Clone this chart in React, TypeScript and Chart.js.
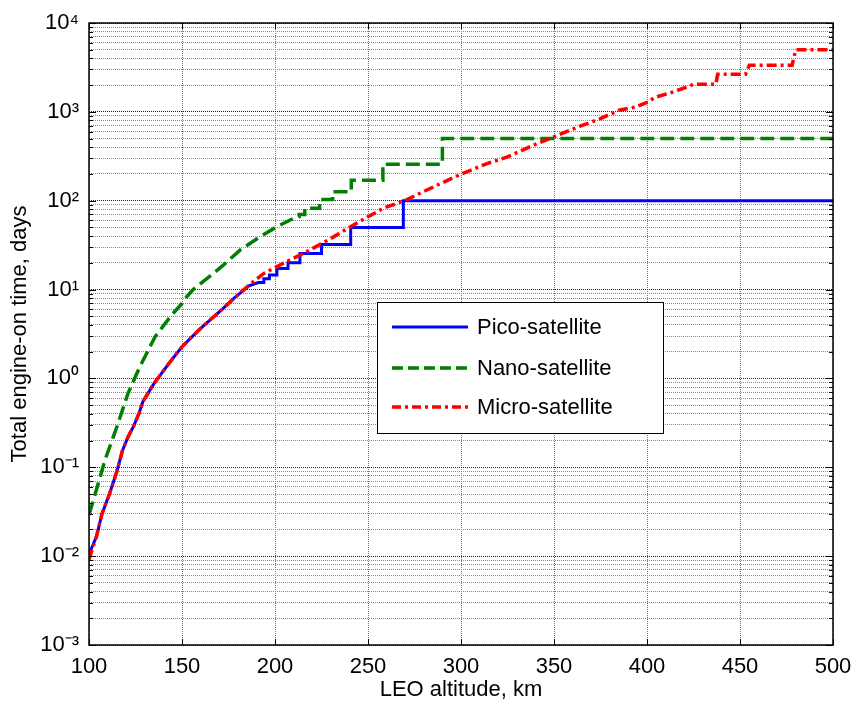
import React, { useEffect, useRef } from "react";
import { Chart, registerables } from "chart.js";

Chart.register(...registerables);

// ---------- data ----------
const altitudeTicks = [100, 150, 200, 250, 300, 350, 400, 450, 500];
const yDecades = [1e-3, 1e-2, 1e-1, 1, 10, 100, 1000, 10000];
const yDecadeLabels = ["10⁻³", "10⁻²", "10⁻¹", "10⁰", "10¹", "10²", "10³", "10⁴"];
const yMinorMultipliers = [2, 3, 4, 5, 6, 7, 8, 9];

const seriesNames = ["Pico-satellite", "Nano-satellite", "Micro-satellite"];

const picoAlt = [100, 104, 107, 111, 115, 118, 121, 124, 127, 129, 135, 143, 150, 159, 172, 178, 186, 191, 194, 194, 197, 197, 201, 201, 207, 207, 213.4, 213.4, 225, 225, 240.7, 240.7, 269, 269, 500];
const picoDays = [0.0105, 0.0166, 0.03, 0.05, 0.09, 0.155, 0.22, 0.29, 0.41, 0.55, 0.88, 1.48, 2.27, 3.5, 6.1, 8.0, 11.0, 12.0, 12.0, 13.2, 13.2, 14.6, 14.6, 17.3, 17.3, 20, 20, 25.5, 25.5, 32.2, 32.2, 50, 50, 100, 100];

const nanoAlt = [100, 104, 108.6, 115, 121, 124.5, 127.4, 135.5, 144.4, 150, 152.5, 156, 166.8, 172.2, 181.2, 191.9, 200.9, 209.8, 213, 213, 216, 216, 224, 224, 231, 231, 241, 241, 258, 258, 290, 290, 500];
const nanoDays = [0.029, 0.056, 0.121, 0.286, 0.68, 1.0, 1.36, 2.94, 5.16, 7.0, 8.3, 10, 15.2, 18.8, 27.8, 39.3, 50.8, 63, 66, 70, 70, 82, 82, 103, 103, 126, 126, 170, 170, 258, 258, 500, 500];

const microAlt = [100, 104, 107, 111, 115, 118, 121, 124, 127, 129, 135, 143, 150, 159, 172, 178, 186, 194, 206, 217, 230, 242, 258, 270, 289, 300, 314, 325, 339, 352, 364, 375, 385, 394, 401, 404, 414, 423, 425, 437, 438, 453, 455, 478, 480, 500];
const microDays = [0.0092, 0.0166, 0.03, 0.05, 0.09, 0.155, 0.22, 0.29, 0.41, 0.55, 0.88, 1.48, 2.27, 3.5, 6.1, 8.0, 11.2, 15.2, 20.5, 26.6, 37.6, 53, 82, 101, 156, 199, 262, 311, 422, 546, 689, 841, 1043, 1137, 1300, 1450, 1675, 1950, 2050, 2050, 2650, 2650, 3350, 3350, 5000, 5000];

// ---------- helpers ----------
const FONT = "'Liberation Sans', Arial, Helvetica, sans-serif";

const yTickValues: number[] = [];
yDecades.forEach((d) => {
  yTickValues.push(d);
  if (d < yDecades[yDecades.length - 1]) {
    yMinorMultipliers.forEach((m) => yTickValues.push(Number((m * d).toPrecision(10))));
  }
});

function decadeIndex(v: number): number {
  for (let i = 0; i < yDecades.length; i++) {
    if (Math.abs(v - yDecades[i]) <= yDecades[i] * 1e-9) return i;
  }
  return -1;
}

function toPoints(xs: number[], ys: number[]) {
  return xs.map((x, i) => ({ x, y: ys[i] }));
}

const framePlugin = {
  id: "matlabFrame",
  afterDraw(chart: any) {
    const { ctx, chartArea: ca, scales } = chart;
    const ys = scales.y;
    const xs = scales.x;
    ctx.save();
    ctx.strokeStyle = "#000";
    ctx.lineWidth = 1;
    ctx.setLineDash([]);
    const seg = (x0: number, y0: number, x1: number, y1: number) => {
      ctx.beginPath();
      ctx.moveTo(x0, y0);
      ctx.lineTo(x1, y1);
      ctx.stroke();
    };
    // inner y tick marks (left & right)
    for (const t of ys.ticks) {
      const py = Math.round(ys.getPixelForValue(t.value)) + 0.5;
      const len = decadeIndex(t.value) >= 0 ? 7 : 4;
      seg(ca.left, py, ca.left + len, py);
      seg(ca.right - len, py, ca.right, py);
    }
    // inner x tick marks (top & bottom)
    for (const t of xs.ticks) {
      const px = Math.round(xs.getPixelForValue(t.value)) + 0.5;
      seg(px, ca.bottom, px, ca.bottom - 6);
      seg(px, ca.top, px, ca.top + 6);
    }
    // frame
    ctx.lineWidth = 1.5;
    ctx.strokeRect(ca.left, ca.top, ca.right - ca.left, ca.bottom - ca.top);

    // legend box
    const box = { x: 377, y: 302, w: 286, h: 131 };
    ctx.fillStyle = "#fff";
    ctx.fillRect(box.x, box.y, box.w, box.h);
    ctx.lineWidth = 1;
    ctx.strokeStyle = "#000";
    ctx.strokeRect(box.x + 0.5, box.y + 0.5, box.w, box.h);
    const rowOffsets = [25, 66, 105];
    const ds = chart.data.datasets;
    ctx.font = `22px ${FONT}`;
    ctx.textBaseline = "middle";
    ctx.textAlign = "left";
    for (let i = 0; i < ds.length; i++) {
      const d = ds[i];
      const y = box.y + rowOffsets[i];
      ctx.strokeStyle = d.borderColor;
      ctx.lineWidth = d.borderWidth;
      ctx.setLineDash(d.legendDash || []);
      ctx.lineCap = "butt";
      ctx.beginPath();
      ctx.moveTo(box.x + 15, y);
      ctx.lineTo(box.x + 91, y);
      ctx.stroke();
      ctx.setLineDash([]);
      ctx.fillStyle = "#000";
      ctx.fillText(d.label, box.x + 100, y + 1);
    }
    ctx.restore();
  },
};

export default function App() {
  const canvasRef = useRef<HTMLCanvasElement | null>(null);

  useEffect(() => {
    const canvas = canvasRef.current;
    if (!canvas) return;
    const chart = new Chart(canvas, {
      type: "line",
      data: {
        datasets: [
          {
            label: seriesNames[0],
            data: toPoints(picoAlt, picoDays),
            borderColor: "#0000ff",
            borderWidth: 3,
            pointRadius: 0,
            fill: false,
            tension: 0,
            order: 2,
            legendDash: [],
          } as any,
          {
            label: seriesNames[1],
            data: toPoints(nanoAlt, nanoDays),
            borderColor: "#008000",
            borderWidth: 3.5,
            borderDash: [14, 6],
            pointRadius: 0,
            fill: false,
            tension: 0,
            order: 1,
            legendDash: [11, 5],
          } as any,
          {
            label: seriesNames[2],
            data: toPoints(microAlt, microDays),
            borderColor: "#ff0000",
            borderWidth: 3.5,
            borderDash: [10, 4, 3, 4],
            pointRadius: 0,
            fill: false,
            tension: 0,
            order: 0,
            legendDash: [9, 4, 3, 4],
          } as any,
        ],
      },
      options: {
        responsive: false,
        animation: false,
        devicePixelRatio: 1,
        layout: { padding: { left: 0, top: 23, right: 21, bottom: 0 } },
        plugins: {
          legend: { display: false },
          tooltip: { enabled: false },
        },
        scales: {
          x: {
            type: "linear",
            min: 100,
            max: 500,
            afterBuildTicks: (s: any) => {
              s.ticks = altitudeTicks.map((v) => ({ value: v }));
            },
            afterFit: (s: any) => {
              s.height = 60;
              s.paddingLeft = 0;
              s.paddingRight = 0;
            },
            ticks: {
              autoSkip: false,
              maxRotation: 0,
              padding: 9,
              color: "#000",
              font: { family: FONT, size: 22 },
              callback: (v: any) => String(v),
            },
            grid: { drawTicks: false, color: "#777", lineWidth: 1 },
            border: { display: false, dash: [1, 1] },
            title: {
              display: true,
              text: "LEO altitude, km",
              color: "#000",
              font: { family: FONT, size: 22 },
              padding: { top: 0, bottom: 2 },
            },
          },
          y: {
            type: "logarithmic",
            min: 1e-3,
            max: 1e4,
            afterBuildTicks: (s: any) => {
              s.ticks = yTickValues.map((v) => ({ value: v }));
            },
            afterFit: (s: any) => {
              s.width = 89;
              s.paddingTop = 0;
              s.paddingBottom = 0;
            },
            ticks: {
              autoSkip: false,
              padding: 10,
              color: "#000",
              font: { family: FONT, size: 22 },
              callback: (v: any) => {
                const i = decadeIndex(Number(v));
                return i >= 0 ? yDecadeLabels[i] : "";
              },
            },
            grid: {
              drawTicks: false,
              lineWidth: 1,
              color: (c: any) => (c.tick && decadeIndex(c.tick.value) >= 0 ? "#222" : "#888"),
            },
            border: { display: false, dash: [1, 1] },
            title: {
              display: true,
              text: "Total engine-on time, days",
              color: "#000",
              font: { family: FONT, size: 22 },
              padding: { top: 7, bottom: 0 },
            },
          },
        },
      } as any,
      plugins: [framePlugin],
    });
    return () => chart.destroy();
  }, []);

  return (
    <div style={{ position: "absolute", left: 0, top: 0, width: 854, height: 705, background: "#fff" }}>
      <canvas ref={canvasRef} width={854} height={705} style={{ display: "block" }} />
    </div>
  );
}
